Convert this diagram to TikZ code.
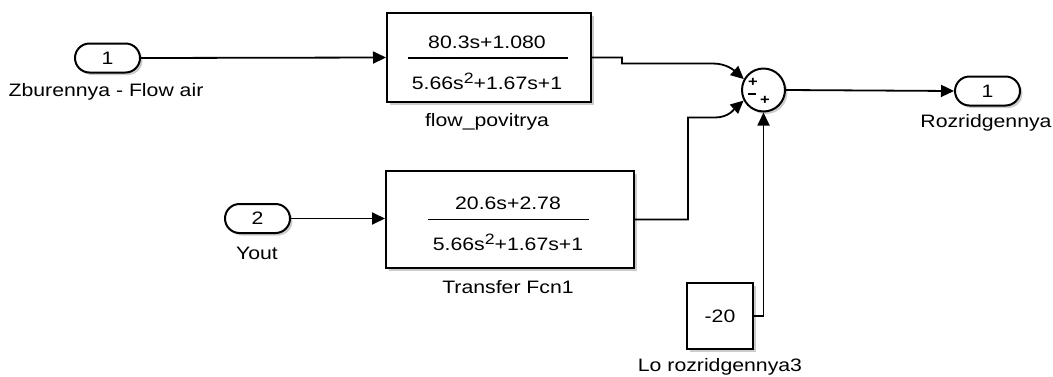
\documentclass[tikz,border=0pt]{standalone}
\usepackage{fontspec}
\setmainfont{Liberation Sans}[FakeStretch=1.18]
\usetikzlibrary{arrows.meta,shapes.misc,shadows,calc}
\begin{document}
\begin{tikzpicture}[x=1pt,y=-1pt,
  every node/.style={font=\fontsize{18}{20}\selectfont, text=black, inner sep=0pt},
  blk/.style={draw, line width=2pt, fill=white, rectangle,
    drop shadow={shadow xshift=2.5pt, shadow yshift=-2.5pt, fill=black, opacity=0.2}},
  port/.style={blk, rounded rectangle, minimum width=65pt, minimum height=29pt},
  sumblk/.style={blk, circle, minimum size=43pt},
  lbl/.style={},
  sgn/.style={font=\fontsize{14}{14}\selectfont\bfseries},
  wire/.style={line width=1.8pt, -{Triangle[length=13pt,width=12pt]}},
  fracline/.style={line width=1.8pt}
]
\useasboundingbox (0,0) rectangle (1053,376);
\newcommand{\sqtwo}{\raisebox{6pt}{\fontsize{15}{15}\selectfont 2}}

% inport 1
\node[port] (in1) at (107.5,58) {1};
\node[lbl] (in1l) at (106,92) {Zburennya - Flow air};

% transfer fcn 1
\node[blk, minimum width=204pt, minimum height=89pt] (tf1) at (489,57.5) {};
\node (n1) at (487,42) {80.3s+1.080};
\node (d1) at (487,81) {5.66s\sqtwo+1.67s+1};
\draw[fracline] ($(tf1.center)+(-81,0.5)$) -- ($(tf1.center)+(79,0.5)$);
\node[lbl] (tf1l) at (487,122) {flow\_povitrya};

% inport 2
\node[port] (in2) at (257.5,218.5) {2};
\node[lbl] (in2l) at (257,253) {Yout};

% transfer fcn 2
\node[blk, minimum width=248pt, minimum height=97pt] (tf2) at (510,219.5) {};
\node (n2) at (508,203) {20.6s+2.78};
\node (d2) at (508,242) {5.66s\sqtwo+1.67s+1};
\draw[fracline] ($(tf2.center)+(-82,0)$) -- ($(tf2.center)+(79,0)$);
\node[lbl] (tf2l) at (508,287) {Transfer Fcn1};

% constant
\node[blk, minimum width=66pt, minimum height=66pt] (const) at (720,316) {-20};
\node[lbl] (constl) at (720,367) {Lo rozridgennya3};

% sum
\node[sumblk] (sum) at (763.5,90) {};
\node[sgn] (s1) at (753,82) {+};
\node[sgn] (s2) at (752,94) {\rule{8pt}{1.7pt}};
\node[sgn] (s3) at (765,100) {+};

% outport
\node[port] (out1) at (987.5,91) {1};
\node[lbl] (out1l) at (986,123) {Rozridgennya};

% connectors
\draw[wire] (in1.east) -- (tf1.west);
\draw[wire] (in2.east) -- (tf2.west |- in2.east);
\draw[wire] (tf1.east) -- ++(30,0) -- ++(0,6) -- ++(91,0)
   .. controls +(14,0) and +(-9,-8) .. (sum.151);
\draw[wire] (tf2.east |- tf2.center) -- ++(53,0) -- ++(0,-102) -- ++(27,0)
   .. controls +(14,0) and +(-9,8) .. (sum.208);
\draw[wire] (const.east) -| (sum.south);
\draw[wire] (sum.east) -- (out1.west);
\end{tikzpicture}
\end{document}
